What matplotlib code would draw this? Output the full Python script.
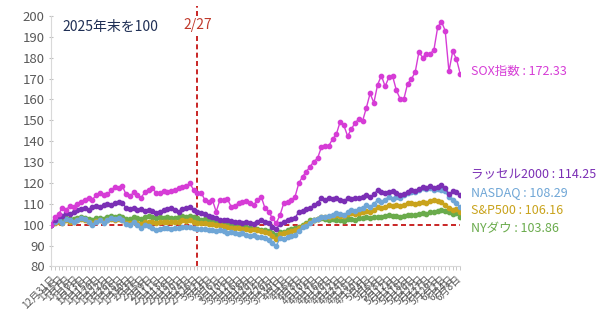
import matplotlib
matplotlib.use("Agg")
import matplotlib.pyplot as plt

plt.rcParams['font.family'] = ['Noto Sans CJK JP', 'DejaVu Sans']

# ---- categories (US trading days) ----
trading_days = {
    12: [31],
    1: [2, 5, 6, 7, 8, 9, 12, 13, 14, 15, 16, 20, 21, 22, 23, 26, 27, 28, 29, 30],
    2: [2, 3, 4, 5, 6, 9, 10, 11, 12, 13, 17, 18, 19, 20, 23, 24, 25, 26, 27],
    3: [2, 3, 4, 5, 6, 9, 10, 11, 12, 13, 16, 17, 18, 19, 20, 23, 24, 25, 26, 27, 30, 31],
    4: [1, 2, 6, 7, 8, 9, 10, 13, 14, 15, 16, 17, 20, 21, 22, 23, 24, 27, 28, 29, 30],
    5: [1, 4, 5, 6, 7, 8, 11, 12, 13, 14, 15, 18, 19, 20, 21, 22, 26, 27, 28, 29],
    6: [1, 2, 3, 4, 5, 8, 9],
}
dates = [f"{m}月{d}日" for m in [12, 1, 2, 3, 4, 5, 6] for d in trading_days[m]]

# ---- series values (2025年末 = 100) ----
sox = [100, 103.5, 105, 108, 107, 109, 108.5, 110, 111, 112,
       113, 112, 114, 115, 114, 114.5, 116.5, 118, 117.5, 118.5,
       114.5, 113.5, 115.5, 114, 113, 115.5, 116.5, 117.4, 115.3, 115.3,
       116.3, 115.8, 116, 116.6, 117.4, 118.2, 118.5, 119.8, 116.6, 115,
       115.3, 111.8, 111, 111.8, 106.2, 111.8, 111.8, 112.2, 108.6, 109,
       110.5, 111, 111.5, 110.5, 109.4, 111.8, 113.4, 107.9, 106.2, 103,
       100.7, 104.6, 110.2, 111, 111.8, 113.4, 119.8, 123, 125.4, 127.8,
       130.2, 131.8, 137, 137.5, 137.8, 141, 143.3, 149.2, 147.6, 142.5,
       145.7, 148.9, 150.5, 149.7, 156, 162.9, 158.4, 167.1, 171.4, 166.3,
       170.6, 171.1, 164.4, 160.3, 160.3, 167.6, 169.8, 173, 182.7, 180.1,
       181.9, 181.9, 183.8, 194.6, 197.3, 193, 173.5, 183, 179.4, 172.33]

russell = [100, 102, 104, 104, 105.5, 105, 106, 107, 107.5, 108,
           107, 108.5, 109, 108.5, 109.5, 110, 109.5, 110.5, 111, 110.5,
           108, 107.5, 108, 107, 107.5, 106.5, 107, 106.5, 105.5, 106.2,
           107, 107.5, 107.9, 107, 106, 107.5, 108, 108.3, 107, 106,
           105.5, 105, 104, 103.8, 103, 102.3, 102, 102.3, 101.8, 101.4,
           101.5, 100.9, 101.4, 100.7, 100.5, 101.4, 102.3, 101.4, 101, 99,
           97.8, 100.5, 101.5, 102.3, 102.5, 103.1, 106.2, 106.5, 107.5, 107.9,
           109.4, 110.5, 112.6, 111.8, 112.6, 112.2, 112.6, 112, 111.5, 112.6,
           112.4, 113, 112.6, 113.4, 114.2, 113.2, 114.5, 116.6, 115.8, 115,
           115.5, 116.3, 115, 114.2, 114.8, 115.8, 116.5, 116, 117, 118,
           117.5, 118.5, 117.8, 118.2, 118.8, 117.5, 114.5, 116, 115.5, 114.25]

nasdaq = [100, 101.5, 102, 101, 102.5, 102, 101.5, 102, 103, 102.5,
          101.5, 100, 101.5, 102, 101, 102, 103, 102.5, 103, 102,
          100.5, 100, 101.5, 100, 98.5, 100, 99.5, 98.3, 97.5, 98,
          98.5, 98.3, 98, 98.5, 98.3, 99, 98.7, 99, 98.5, 98,
          97.8, 98, 97.5, 97.2, 97, 97.3, 96.8, 96.2, 96.5, 95.8,
          95.5, 95.8, 95, 94.6, 95, 94.3, 94, 93.5, 92.7, 91,
          89.8, 93.5, 93.2, 94, 94.5, 95, 97, 99, 99.5, 101,
          102.3, 102.5, 103.8, 103.5, 104, 104.5, 105.5, 105, 104.5, 106,
          107, 106.5, 107.5, 108, 109.4, 108.5, 110, 111.8, 111, 112,
          113.4, 112.5, 113.4, 113, 114, 115, 115.8, 115.5, 116.5, 117.4,
          117, 117.4, 116.8, 117.2, 116.6, 116, 113.4, 111.8, 110.2, 108.29]

sp500 = [100, 101, 101.5, 101, 102, 101.5, 101.5, 102, 102.5, 102,
         101.5, 101, 101.8, 102, 101.5, 102, 102.5, 102.3, 102.8, 102,
         101, 100.8, 101.5, 101, 100.5, 101.2, 101.5, 101.4, 101, 101.2,
         101.5, 101.3, 101.2, 101.5, 101.4, 102, 101.8, 102, 101.5, 101,
         101, 100.8, 100.5, 100.2, 99.9, 100, 99.5, 99, 98.5, 98.3,
         98.5, 98, 97.8, 97.5, 97.8, 97.2, 96.8, 96.5, 95.9, 94.5,
         93, 95.5, 95.9, 96.5, 97, 97.5, 98.5, 99.5, 100.5, 101.4,
         102, 102.5, 103.8, 103.5, 103.5, 104, 104.5, 104, 104, 105,
         105.5, 105, 105.5, 106, 106.5, 106, 107, 108.6, 108, 108.5,
         109.4, 109, 109.4, 109, 109.5, 110.2, 110.5, 110, 110.2, 111,
         110.5, 111.3, 111.8, 111.5, 111, 109.4, 108, 107, 107.5, 106.16]

dow = [100, 101.5, 102.5, 102, 103, 102.5, 102.5, 103, 103.5, 103,
       102.5, 102, 103, 103.2, 102.8, 103.5, 104, 103.5, 104, 103.5,
       102.5, 102.5, 103.5, 103, 102.5, 103.5, 104, 103.8, 103.2, 103.5,
       103, 103.5, 103, 103, 103.5, 104, 103.8, 104, 103.8, 103,
       102.3, 102.5, 102, 101.8, 101.4, 101.5, 101, 100.5, 100.3, 99.9,
       100, 99.5, 99, 98.3, 98.5, 98, 97.5, 97.5, 96.8, 96,
       95, 96.6, 96.6, 97.5, 98, 98.5, 99, 100, 101, 102,
       102.3, 102.5, 103, 102.5, 102.3, 102.5, 102, 102.3, 101.8, 102.5,
       102.8, 102.3, 103, 103, 103.5, 103, 103.5, 103.8, 103.5, 104,
       104.6, 104.2, 104, 103.8, 104, 104.6, 104.8, 104.5, 105, 105.5,
       105.2, 106, 106.2, 106.5, 107, 106.5, 106.2, 105, 105.5, 103.86]

series_names = ["SOX指数", "ラッセル2000", "NASDAQ", "S&P500", "NYダウ"]
series_values = [sox, russell, nasdaq, sp500, dow]
series_colors = ["#d63cd6", "#7b2fb5", "#6fa6d6", "#c9a31c", "#6aab4c"]
label_y = [173.2, 123.8, 115.2, 106.6, 98.0]   # label placement (value units)

event_label = "2/27"
event_index = dates.index("2月27日")
ymin, ymax = 80, 200

fig = plt.figure(figsize=(6.0, 3.18), dpi=100)
ax = fig.add_axes([0.085, 0.1623, 0.682, 0.7874])

x = list(range(len(dates)))
order = [4, 3, 2, 1, 0]
for k in order:
    ax.plot(x, series_values[k], color=series_colors[k], lw=1.0,
            marker='o', ms=3.1, mec=series_colors[k], mfc=series_colors[k],
            zorder=3 + (4 - k) * 0.1)

for k in range(len(series_names)):
    last = series_values[k][-1]
    ax.text(len(dates) - 1 + 3.0, label_y[k], f"{series_names[k]} : {last:.2f}",
            color=series_colors[k], fontsize=9, ha='left', va='center',
            clip_on=False)

# reference lines
ax.plot([0, len(dates) - 1], [100, 100], color='#c00000', lw=1.2,
        ls=(0, (3, 2)), zorder=2.5)
ax.plot([event_index, event_index], [ymin, 205], color='#c00000', lw=1.2,
        ls=(0, (3, 2)), zorder=2.5, clip_on=False)
ax.text(event_index, 195.7, event_label, color='#c0392b', fontsize=10,
        ha='center', va='center', zorder=4,
        bbox=dict(facecolor='white', edgecolor='none', pad=1.5))

ax.text(0.027, 0.985, "2025年末を100", transform=ax.transAxes,
        fontsize=10, color='#1f2f55', ha='left', va='top')

ax.set_xlim(0, len(dates) - 1)
ax.set_ylim(ymin, ymax)
ax.set_yticks(range(ymin, ymax + 1, 10))
ax.tick_params(axis='y', labelsize=9.5, labelcolor='#595959', color='#bfbfbf',
               length=3, width=0.8, pad=3, direction='inout')
ax.set_xticks(x)
ax.set_xticklabels([d if i % 2 == 0 else '' for i, d in enumerate(dates)],
                   rotation=45, ha='right', va='top', rotation_mode='anchor',
                   fontsize=7.2, color='#595959')
ax.tick_params(axis='x', color='#bfbfbf', length=3, width=0.6, pad=2)

for s in ['top', 'right']:
    ax.spines[s].set_visible(False)
for s in ['left', 'bottom']:
    ax.spines[s].set_color('#d9d9d9')
    ax.spines[s].set_linewidth(0.8)

fig.savefig("out.png", dpi=100)
